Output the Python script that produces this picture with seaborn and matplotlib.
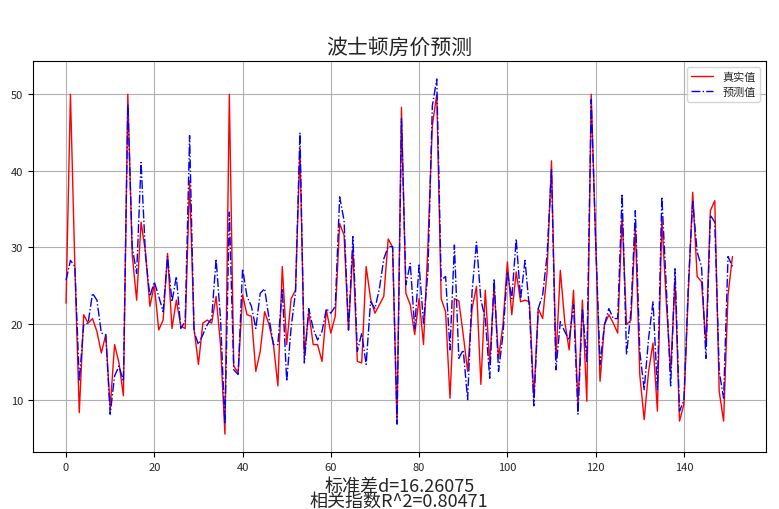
import numpy as np
import pandas as pd
import matplotlib
matplotlib.use("Agg")
import matplotlib.pyplot as plt
import seaborn as sns

# ---- data ----
true_vals = [22.7, 50, 27.5, 8.4, 21.2, 20.1, 20.7, 19.0, 16.2, 18.6,
             9.0, 17.3, 14.9, 10.6, 50, 29.0, 23.1, 33.3, 29.4, 22.3,
             25.1, 19.2, 20.5, 29.2, 19.4, 23.1, 19.7, 19.4, 38.7, 19.4,
             14.7, 20.1, 20.5, 20.1, 23.6, 17.3, 5.6, 50, 14.5, 13.6,
             23.8, 21.2, 21.0, 13.8, 16.4, 21.6, 19.9, 17.3, 11.9, 27.5,
             17.3, 23.3, 24.4, 43.0, 15.8, 21.6, 17.3, 17.3, 15.1, 21.8,
             18.8, 21.0, 33.1, 31.6, 19.2, 29.8, 15.1, 14.9, 27.5, 23.3,
             21.4, 22.5, 23.6, 31.1, 30.0, 7.0, 48.3, 24.0, 22.5, 18.6,
             23.3, 17.3, 30.3, 45.9, 50, 23.3, 21.6, 10.3, 23.3, 23.0,
             18.6, 13.8, 22.0, 24.9, 12.1, 24.4, 14.9, 24.9, 15.5, 19.9,
             28.1, 21.2, 26.8, 22.9, 23.1, 22.9, 10.3, 22.0, 20.7, 26.8,
             41.3, 15.3, 27.0, 20.3, 16.6, 24.4, 9.3, 23.1, 9.9, 50,
             31.0, 12.5, 19.9, 21.2, 20.1, 18.8, 34.2, 19.9, 20.5, 32.7,
             13.4, 7.5, 13.8, 17.5, 8.6, 33.7, 23.0, 13.8, 25.9, 7.3,
             9.5, 24.0, 37.2, 26.2, 25.5, 17.3, 34.8, 36.1, 11.2, 7.3,
             23.8, 28.8]

pred_vals = [25.7, 28.3, 27.5, 12.5, 19.9, 20.1, 24.0, 23.1, 18.8, 18.6,
             8.2, 13.2, 14.5, 12.5, 48.7, 30.0, 26.6, 41.1, 29.0, 23.6,
             25.5, 23.6, 21.6, 28.8, 22.9, 26.2, 19.4, 20.3, 44.6, 19.0,
             17.3, 18.6, 19.9, 20.7, 28.5, 20.7, 6.9, 34.6, 14.0, 13.4,
             27.2, 23.6, 22.3, 19.4, 24.0, 24.6, 20.7, 17.3, 17.3, 24.6,
             12.5, 19.5, 24.2, 45.0, 14.9, 22.0, 19.4, 17.9, 19.0, 22.0,
             21.4, 22.3, 36.6, 33.5, 19.2, 31.4, 16.4, 18.8, 14.7, 22.9,
             22.0, 24.6, 28.5, 30.1, 30.1, 6.9, 46.8, 25.1, 27.9, 19.4,
             27.7, 20.1, 26.8, 48.5, 52.0, 25.7, 26.2, 16.6, 30.3, 15.5,
             16.6, 10.1, 24.2, 30.7, 23.1, 20.7, 12.9, 25.9, 13.8, 18.6,
             26.8, 23.3, 31.1, 23.3, 28.3, 22.0, 9.3, 22.0, 23.8, 29.0,
             40.2, 14.0, 20.3, 19.0, 17.9, 22.5, 8.2, 22.0, 15.1, 49.3,
             31.0, 14.7, 19.9, 22.0, 20.7, 20.7, 37.0, 16.0, 21.6, 34.8,
             16.4, 11.4, 18.1, 22.9, 11.4, 36.6, 25.0, 11.9, 27.2, 8.6,
             10.0, 25.0, 36.0, 29.4, 27.5, 15.5, 34.2, 33.3, 13.8, 10.3,
             28.8, 27.5]

title_text = "波士顿房价预测"
legend_labels = ["真实值", "预测值"]
xlabel_text = "标准差d=16.26075\n相关指数R^2=0.80471"

df = pd.DataFrame({"idx": np.arange(len(true_vals)),
                   "true": true_vals, "pred": pred_vals})

sns.set_style("whitegrid")
plt.rcParams["font.family"] = ["Noto Sans CJK SC", "DejaVu Sans"]
plt.rcParams["axes.unicode_minus"] = False

fig = plt.figure(figsize=(7.79, 5.10), dpi=100)
ax = fig.add_axes([0.042, 0.112, 0.941, 0.766])

sns.lineplot(data=df, x="idx", y="true", ax=ax, color="red", lw=1,
             label=legend_labels[0])
sns.lineplot(data=df, x="idx", y="pred", ax=ax, color="blue", lw=1,
             linestyle="-.", label=legend_labels[1])

ax.set_xticks([0, 20, 40, 60, 80, 100, 120, 140])
ax.set_yticks([10, 20, 30, 40, 50])
ax.tick_params(labelsize=8, length=3.5, color="black", direction="out",
               left=True, bottom=True)
ax.grid(True, color="#b0b0b0", lw=0.8)
for s in ax.spines.values():
    s.set_color("black")
    s.set_linewidth(0.8)

ax.set_title(title_text, fontsize=15, pad=6)
ax.set_xlabel(xlabel_text, fontsize=13, labelpad=4, linespacing=0.78)
ax.set_ylabel("")
ax.legend(loc="upper right", fontsize=8, frameon=True)

fig.savefig("out.png", dpi=100)
